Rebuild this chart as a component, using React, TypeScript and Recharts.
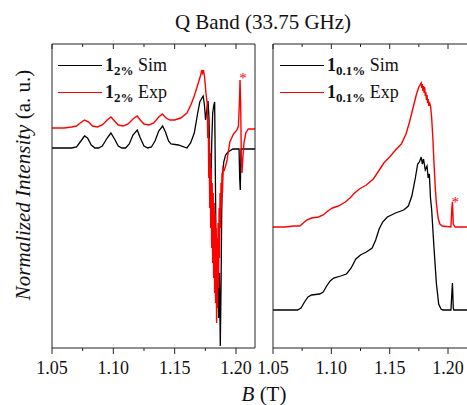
import React from 'react';
import { LineChart, Line, XAxis, YAxis, Legend, ReferenceDot } from 'recharts';

const SERIF = '"Liberation Serif", "Times New Roman", Times, serif';

// Magnetic field ticks (T)
const FIELD_TICKS = [1.05, 1.075, 1.1, 1.125, 1.15, 1.175, 1.2];
const MAJOR_TICKS = [1.05, 1.1, 1.15, 1.2];
const TICK_LABELS = ['1.05', '1.10', '1.15', '1.20'];

// Panel 1: 1 (2%) — [B (T), normalized intensity]
const sim2: [number, number][] = [
  [1.05, 2.0], [1.066, 2.0], [1.07, 2.01], [1.073, 2.06], [1.0765, 2.12], [1.079, 2.1], [1.082, 2.03],
  [1.085, 2.0], [1.088, 2.0], [1.091, 2.02], [1.095, 2.1], [1.098, 2.15], [1.101, 2.09], [1.104, 2.02],
  [1.107, 2.0], [1.11, 2.0], [1.113, 2.04], [1.116, 2.13], [1.1195, 2.18], [1.122, 2.1], [1.125, 2.02],
  [1.128, 2.0], [1.131, 2.01], [1.134, 2.07], [1.137, 2.17], [1.1402, 2.22], [1.1425, 2.16], [1.145, 2.07],
  [1.147, 2.04], [1.153, 2.03], [1.16, 2.0], [1.163, 2.05], [1.166, 2.15], [1.1685, 2.33], [1.1705, 2.46],
  [1.1722, 2.5], [1.1732, 2.52], [1.1742, 2.44], [1.1752, 2.28], [1.1762, 2.38], [1.1772, 2.47], [1.178, 2.3],
  [1.1788, 1.75], [1.1795, 1.55], [1.1802, 2.05], [1.181, 2.35], [1.1818, 2.42], [1.1826, 2.46], [1.1832, 1.7],
  [1.1838, 0.95], [1.1845, 0.4], [1.1852, 0.9], [1.1858, 0.3], [1.1865, 0.75], [1.1872, 0.02], [1.1878, 0.6],
  [1.1884, 1.4], [1.189, 1.72], [1.19, 1.86], [1.1915, 1.93], [1.1935, 1.96], [1.1975, 1.99], [1.2025, 1.99],
  [1.203, 1.7], [1.2035, 1.58], [1.2041, 1.99], [1.2155, 1.99],
];
const exp2: [number, number][] = [
  [1.05, 2.2], [1.06, 2.2], [1.066, 2.21], [1.07, 2.22], [1.073, 2.25], [1.0765, 2.28], [1.08, 2.26],
  [1.083, 2.22], [1.087, 2.21], [1.091, 2.23], [1.095, 2.28], [1.098, 2.31], [1.101, 2.27], [1.104, 2.23],
  [1.108, 2.22], [1.112, 2.24], [1.116, 2.29], [1.1195, 2.32], [1.122, 2.28], [1.125, 2.24], [1.129, 2.23],
  [1.133, 2.25], [1.137, 2.31], [1.14, 2.34], [1.143, 2.3], [1.146, 2.28], [1.15, 2.28], [1.155, 2.3],
  [1.16, 2.35], [1.1635, 2.44], [1.166, 2.52], [1.168, 2.6], [1.17, 2.68], [1.1715, 2.74], [1.172, 2.78],
  [1.1728, 2.75], [1.1735, 2.78], [1.1745, 2.7], [1.1755, 2.55], [1.1765, 2.45], [1.177, 2.1], [1.1774, 2.3],
  [1.1778, 1.7], [1.1782, 2.1], [1.1786, 1.4], [1.179, 1.95], [1.1794, 1.2], [1.1798, 1.8], [1.1802, 1.0],
  [1.1806, 1.65], [1.181, 0.85], [1.1814, 1.55], [1.1818, 0.7], [1.1822, 1.45], [1.1826, 0.55], [1.183, 1.35],
  [1.1834, 0.45], [1.1838, 1.2], [1.1842, 0.25], [1.1846, 1.1], [1.185, 0.4], [1.1854, 1.25], [1.1858, 0.6],
  [1.1862, 1.4], [1.1866, 0.9], [1.187, 1.55], [1.1874, 1.2], [1.1878, 1.65], [1.1882, 1.4], [1.1886, 1.75],
  [1.189, 1.55], [1.1895, 1.8], [1.1905, 1.78], [1.1915, 1.82], [1.1926, 1.87], [1.195, 2.06], [1.198, 2.14],
  [1.2008, 2.18], [1.202, 2.22], [1.2028, 2.45], [1.2033, 2.68], [1.2038, 2.45], [1.2043, 1.95], [1.2049, 1.75],
  [1.2056, 1.9], [1.2065, 2.05], [1.208, 2.15], [1.21, 2.19], [1.2155, 2.19],
];

// Panel 2: 1 (0.1%)
const sim01: [number, number][] = [
  [1.05, 0.38], [1.071, 0.38], [1.074, 0.4], [1.077, 0.46], [1.08, 0.51], [1.083, 0.53], [1.09, 0.54],
  [1.093, 0.56], [1.096, 0.62], [1.099, 0.67], [1.102, 0.7], [1.108, 0.72], [1.113, 0.74], [1.117, 0.8],
  [1.121, 0.89], [1.125, 0.93], [1.13, 0.96], [1.135, 1.0], [1.138, 1.08], [1.141, 1.19], [1.144, 1.26],
  [1.148, 1.31], [1.155, 1.35], [1.162, 1.38], [1.166, 1.42], [1.169, 1.52], [1.172, 1.7], [1.174, 1.84],
  [1.1755, 1.86], [1.177, 1.91], [1.178, 1.84], [1.179, 1.89], [1.1805, 1.78], [1.182, 1.82], [1.183, 1.7],
  [1.184, 1.74], [1.185, 1.5], [1.186, 1.38], [1.188, 1.0], [1.19, 0.65], [1.192, 0.44], [1.194, 0.39],
  [1.1955, 0.38], [1.2025, 0.38], [1.2033, 0.55], [1.2038, 0.65], [1.2045, 0.4], [1.205, 0.38], [1.2197, 0.38],
];
const exp01: [number, number][] = [
  [1.05, 1.21], [1.06, 1.21], [1.068, 1.22], [1.073, 1.22], [1.076, 1.25], [1.079, 1.28], [1.083, 1.3],
  [1.089, 1.31], [1.093, 1.33], [1.097, 1.37], [1.101, 1.4], [1.106, 1.42], [1.112, 1.46], [1.116, 1.5],
  [1.12, 1.55], [1.124, 1.59], [1.13, 1.63], [1.136, 1.69], [1.14, 1.76], [1.145, 1.85], [1.15, 1.91],
  [1.155, 1.98], [1.16, 2.04], [1.164, 2.14], [1.167, 2.26], [1.17, 2.4], [1.173, 2.54], [1.175, 2.61],
  [1.177, 2.65], [1.1775, 2.6], [1.178, 2.64], [1.1785, 2.57], [1.179, 2.62], [1.1795, 2.55], [1.18, 2.61],
  [1.1805, 2.52], [1.181, 2.56], [1.1815, 2.48], [1.182, 2.53], [1.1825, 2.45], [1.183, 2.49], [1.1835, 2.42],
  [1.184, 2.46], [1.185, 2.42], [1.186, 2.3], [1.187, 2.1], [1.188, 1.85], [1.189, 1.62], [1.19, 1.45],
  [1.1915, 1.3], [1.193, 1.24], [1.195, 1.22], [1.2025, 1.21], [1.2033, 1.4], [1.2038, 1.46], [1.2045, 1.24],
  [1.206, 1.21], [1.2197, 1.21],
];

const toRows = (arr: [number, number][]) => arr.map(([b, i]) => ({ b, i }));

const isMajor = (v: number) => MAJOR_TICKS.findIndex((m) => Math.abs(m - v) < 1e-6);

const BottomTick = (props: any) => {
  const { x, y, payload } = props;
  const idx = isMajor(payload.value);
  return (
    <g>
      <line x1={x} x2={x} y1={y} y2={y + (idx >= 0 ? 6 : 3)} stroke="#222" strokeWidth={1} />
      {idx >= 0 && (
        <text x={x} y={y + 26} textAnchor="middle" fontSize={18} fontFamily={SERIF} fill="#111">
          {TICK_LABELS[idx]}
        </text>
      )}
    </g>
  );
};

const TopTick = (props: any) => {
  const { x, y, payload } = props;
  const idx = isMajor(payload.value);
  return <line x1={x} x2={x} y1={y} y2={y + (idx >= 0 ? 5 : 3)} stroke="#222" strokeWidth={1} />;
};

const LegendBox = ({ sub }: { sub: string }) => {
  const row = (color: string, label: string) => (
    <div style={{ display: 'flex', alignItems: 'center', height: 27 }}>
      <span style={{ display: 'inline-block', width: 44, borderTop: `1.5px solid ${color}` }} />
      <span style={{ marginLeft: 3, fontFamily: SERIF, fontSize: 18, lineHeight: 1, color: '#111', whiteSpace: 'nowrap' }}>
        <span style={{ fontWeight: 'bold' }}>1</span>
        <span style={{ fontWeight: 'bold', fontSize: 13, position: 'relative', top: 4 }}>{sub}</span>
        {' ' + label}
      </span>
    </div>
  );
  return (
    <div>
      {row('#000', 'Sim')}
      {row('#ff0000', 'Exp')}
    </div>
  );
};

const Panel = ({
  sim, exp, sub, width, margin, xMax, legendLeft, star,
}: {
  sim: [number, number][]; exp: [number, number][]; sub: string; width: number;
  margin: { top: number; left: number; right: number; bottom: number }; xMax: number; legendLeft: number;
  star: [number, number];
}) => (
  <LineChart width={width} height={405} margin={margin}>
    <XAxis
      xAxisId="b" dataKey="b" type="number" domain={[1.05, xMax]} allowDataOverflow ticks={FIELD_TICKS}
      interval={0} height={1} tickSize={0} tickMargin={0} tickLine={false} tick={<BottomTick />}
      axisLine={{ stroke: '#222' }}
    />
    <XAxis
      xAxisId="t" orientation="top" dataKey="b" type="number" domain={[1.05, xMax]} allowDataOverflow
      ticks={FIELD_TICKS} interval={0} height={1} tickSize={0} tickMargin={0} tickLine={false}
      tick={<TopTick />} axisLine={{ stroke: '#222' }}
    />
    <YAxis yAxisId="l" type="number" domain={[0, 3.04]} allowDataOverflow width={1} tick={false} tickLine={false} axisLine={{ stroke: '#222' }} />
    <YAxis yAxisId="r" orientation="right" type="number" domain={[0, 3.04]} allowDataOverflow width={1} tick={false} tickLine={false} axisLine={{ stroke: '#222' }} />
    <Line xAxisId="b" yAxisId="l" data={toRows(sim)} dataKey="i" type="linear" stroke="#000" strokeWidth={1.3} dot={false} isAnimationActive={false} />
    <Line xAxisId="b" yAxisId="l" data={toRows(exp)} dataKey="i" type="linear" stroke="#ff0000" strokeWidth={1.4} dot={false} isAnimationActive={false} />
    <ReferenceDot
      xAxisId="b" yAxisId="l" x={star[0]} y={star[1]} r={0} ifOverflow="visible"
      label={{ value: '*', position: 'center', fill: '#ff0000', fontSize: 15, fontFamily: SERIF }}
    />
    <Legend
      layout="vertical" align="center" verticalAlign="middle"
      wrapperStyle={{ left: legendLeft, top: 51.5, width: 'auto', height: 'auto' }}
      content={() => <LegendBox sub={sub} />}
    />
  </LineChart>
);

export default function App() {
  return (
    <div style={{ position: 'absolute', left: 0, top: 0, width: 467, height: 405, overflow: 'hidden', background: '#fff' }}>
      <div style={{ position: 'absolute', left: 263, top: 10, transform: 'translateX(-50%)', fontFamily: SERIF, fontSize: 21, color: '#111', whiteSpace: 'nowrap' }}>
        Q Band (33.75 GHz)
      </div>
      <div style={{ position: 'absolute', left: 0, top: 0 }}>
        <Panel sim={sim2} exp={exp2} sub="2%" width={262} margin={{ top: 43, left: 51, right: 6, bottom: 56 }} xMax={1.2155} legendLeft={58} star={[1.2057, 2.7]} />
      </div>
      <div style={{ position: 'absolute', left: 240, top: 0 }}>
        <Panel sim={sim01} exp={exp01} sub="0.1%" width={240} margin={{ top: 43, left: 32, right: 8, bottom: 56 }} xMax={1.2197} legendLeft={40} star={[1.2062, 1.46]} />
      </div>
      <div style={{ position: 'absolute', left: 23, top: 185, transform: 'translate(-50%, -50%) rotate(-90deg)', fontFamily: SERIF, fontSize: 21, color: '#111', whiteSpace: 'nowrap' }}>
        <i>Normalized Intensity</i> (a. u.)
      </div>
      <div style={{ position: 'absolute', left: 264, top: 382, transform: 'translateX(-50%)', fontFamily: SERIF, fontSize: 21, color: '#111', whiteSpace: 'nowrap' }}>
        <i>B</i> (T)
      </div>
    </div>
  );
}
